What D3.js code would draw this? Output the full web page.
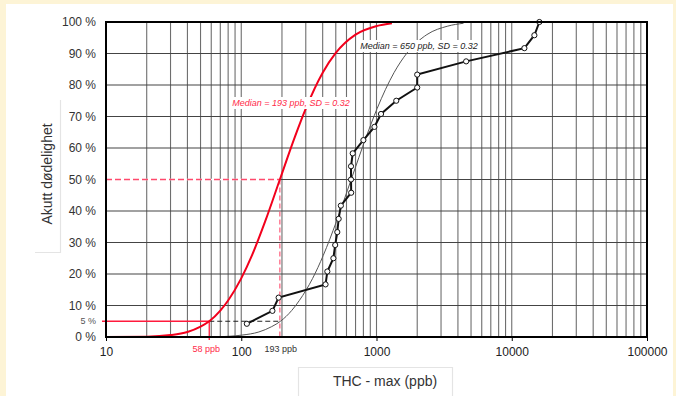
<!DOCTYPE html>
<html>
<head>
<meta charset="utf-8">
<script src="https://cdn.jsdelivr.net/npm/d3@7"></script>
<style>
  html, body { margin: 0; padding: 0; background: #fdf4d6; }
  svg { display: block; font-family: "Liberation Sans", Arial, sans-serif; }
</style>
</head>
<body>
<svg id="chart" width="676" height="396"></svg>
<script>
// ---- data ----
const xTickValues = [10, 100, 1000, 10000, 100000];
const xTickLabels = ["10", "100", "1000", "10000", "100000"];
const yTickValues = [0, 10, 20, 30, 40, 50, 60, 70, 80, 90, 100];
const yTickLabels = ["0 %", "10 %", "20 %", "30 %", "40 %", "50 %", "60 %", "70 %", "80 %", "90 %", "100 %"];

// observed data (black line with open circles)
const obsX = [110, 170, 189, 420, 433, 480, 495, 513, 525, 545, 650, 648, 648, 667, 800, 965, 1080, 1400, 2000, 2000, 4600, 12400, 14700, 16000];
const obsY = [4.2, 8.3, 12.5, 16.7, 20.8, 25, 29.2, 33.3, 37.5, 41.7, 45.8, 50, 54.2, 58.3, 62.5, 66.7, 70.8, 75, 79.2, 83.3, 87.5, 91.7, 95.8, 100];

// red curve (Median = 193 ppb, SD = 0.32)
const redX = [10, 20, 30, 40, 50, 58, 70, 80, 100, 120, 150, 193, 250, 300, 400, 500, 700, 1000, 1300];
const redY = [0, 0.1, 0.6, 1.6, 3.3, 5, 8.4, 11.6, 18.6, 25.9, 36.6, 50, 63.7, 72.5, 83.9, 90.2, 96, 98.7, 99.6];

// grey curve (Median = 650 ppb, SD = 0.32)
const greyX = [34, 67, 101, 135, 168, 195, 236, 269, 337, 404, 505, 650, 842, 1010, 1347, 1684, 2358, 3368, 4400];
const greyY = [0, 0.1, 0.6, 1.6, 3.3, 5, 8.4, 11.6, 18.6, 25.9, 36.6, 50, 63.7, 72.5, 83.9, 90.2, 96, 98.7, 99.6];

// reference markers
const refLow = { x: 58, y: 5, label: "58 ppb" };
const refMid = { x: 193, y: 50, label: "193 ppb" };
const redLabel = "Median = 193 ppb, SD = 0.32";
const greyLabel = "Median = 650 ppb, SD = 0.32";

// ---- drawing ----
const svg = d3.select("#chart");
const L = 106, R = 647, T = 22, B = 337;
const x = d3.scaleLog().domain([10, 100000]).range([L, R]);
const y = d3.scaleLinear().domain([0, 100]).range([B, T]);

// white panel
svg.append("rect").attr("x", 6).attr("y", 4).attr("width", 667).attr("height", 392).attr("fill", "#ffffff");

// vertical minor gridlines
const minor = [];
for (let d = 10; d < 100000; d *= 10) for (let m = 1; m <= 9; m++) { const v = d * m; if (v > 10 && v < 100000) minor.push(v); }
svg.append("g").selectAll("line").data(minor).join("line")
  .attr("x1", d => x(d)).attr("x2", d => x(d)).attr("y1", T).attr("y2", B)
  .attr("stroke", "#6e6e6e").attr("stroke-width", 1.1);

// horizontal gridlines
svg.append("g").selectAll("line").data(yTickValues.filter(v => v > 0 && v < 100)).join("line")
  .attr("x1", L).attr("x2", R).attr("y1", d => y(d)).attr("y2", d => y(d))
  .attr("stroke", "#444").attr("stroke-width", 1.2);

svg.append("clipPath").attr("id", "pc").append("rect")
  .attr("x", L).attr("y", T - 1).attr("width", R - L).attr("height", B - T + 1);

// reference lines
const pink = "#ff4a6c";
svg.append("line").attr("x1", L).attr("x2", x(refMid.x)).attr("y1", y(refMid.y)).attr("y2", y(refMid.y))
  .attr("stroke", "#fff").attr("stroke-width", 1.6);
svg.append("line").attr("x1", L).attr("x2", x(refMid.x)).attr("y1", y(refMid.y)).attr("y2", y(refMid.y))
  .attr("stroke", pink).attr("stroke-width", 1.5).attr("stroke-dasharray", "6,3");
svg.append("line").attr("x1", x(refMid.x)).attr("x2", x(refMid.x)).attr("y1", y(refMid.y)).attr("y2", B)
  .attr("stroke", pink).attr("stroke-width", 1.1).attr("stroke-dasharray", "5,3");
svg.append("line").attr("x1", x(refLow.x)).attr("x2", x(refMid.x)).attr("y1", y(refLow.y)).attr("y2", y(refLow.y))
  .attr("stroke", "#222").attr("stroke-width", 1).attr("stroke-dasharray", "5,3");
svg.append("line").attr("x1", L - 4).attr("x2", x(refLow.x)).attr("y1", y(refLow.y)).attr("y2", y(refLow.y))
  .attr("stroke", "#ff1a3c").attr("stroke-width", 1.3);
svg.append("line").attr("x1", x(refLow.x)).attr("x2", x(refLow.x)).attr("y1", y(refLow.y)).attr("y2", B + 3)
  .attr("stroke", "#ff1a3c").attr("stroke-width", 1.3);

// curves
const curveLine = d3.line().x(d => x(d[0])).y(d => y(d[1])).curve(d3.curveMonotoneX);
const plot = svg.append("g").attr("clip-path", "url(#pc)");
plot.append("path").datum(greyX.map((v, i) => [v, greyY[i]]))
  .attr("d", curveLine).attr("fill", "none").attr("stroke", "#555").attr("stroke-width", 1);
plot.append("path").datum(redX.map((v, i) => [v, redY[i]]))
  .attr("d", curveLine).attr("fill", "none").attr("stroke", "#f2001c").attr("stroke-width", 2);

// observed data
const obs = obsX.map((v, i) => [v, obsY[i]]);
svg.append("path").datum(obs)
  .attr("d", d3.line().x(d => x(d[0])).y(d => y(d[1])))
  .attr("fill", "none").attr("stroke", "#111").attr("stroke-width", 2);
svg.append("g").selectAll("circle").data(obs).join("circle")
  .attr("cx", d => x(d[0])).attr("cy", d => y(d[1])).attr("r", 2.6)
  .attr("fill", "#fff").attr("stroke", "#111").attr("stroke-width", 1);

// curve labels with white background
function boxLabel(txt, cx, by, color) {
  const g = svg.append("g");
  const t = g.append("text").attr("x", cx).attr("y", by).attr("text-anchor", "middle")
    .attr("font-size", 9).attr("font-style", "italic").attr("fill", color).text(txt);
  const bb = t.node().getBBox();
  g.insert("rect", "text").attr("x", bb.x - 3).attr("y", bb.y - 1).attr("width", bb.width + 6).attr("height", bb.height + 2)
    .attr("fill", "#fff");
}
boxLabel(redLabel, 291, 106, "#ff2a48");
boxLabel(greyLabel, 419, 49, "#222");

// frame
svg.append("rect").attr("x", L).attr("y", T).attr("width", R - L).attr("height", B - T)
  .attr("fill", "none").attr("stroke", "#000").attr("stroke-width", 2);

// x axis ticks and labels
const xAxis = d3.axisBottom(x).tickValues(xTickValues).tickFormat((d, i) => xTickLabels[i]).tickSize(4).tickPadding(6);
const gx = svg.append("g").attr("transform", `translate(0,${B})`).call(xAxis);
gx.select(".domain").remove();
gx.selectAll("line").attr("stroke", "#000");
gx.selectAll("text").attr("font-size", 12).attr("fill", "#222").attr("font-family", "Liberation Sans, Arial, sans-serif");

// y axis labels
const yAxis = d3.axisLeft(y).tickValues(yTickValues).tickFormat((d, i) => yTickLabels[i]).tickSize(0).tickPadding(10);
const gy = svg.append("g").attr("transform", `translate(${L},0)`).call(yAxis);
gy.select(".domain").remove();
gy.selectAll("text").attr("font-size", 12).attr("fill", "#333").attr("font-family", "Liberation Sans, Arial, sans-serif");

// 5 % label
svg.append("text").attr("x", 96).attr("y", y(refLow.y) + 3).attr("text-anchor", "end")
  .attr("font-size", 9).attr("fill", "#555").text(refLow.y + " %");

// ppb marker labels
svg.append("text").attr("x", x(refLow.x) - 3).attr("y", 352).attr("text-anchor", "middle")
  .attr("font-size", 9).attr("fill", "#ff2a48").text(refLow.label);
svg.append("text").attr("x", x(refMid.x) + 1).attr("y", 352).attr("text-anchor", "middle")
  .attr("font-size", 9).attr("fill", "#333").text(refMid.label);

// axis title boxes
svg.append("path").attr("d", "M35,252.5 H60.5 V100").attr("fill", "none").attr("stroke", "#e4e4e4").attr("stroke-width", 1.2);
svg.append("text").attr("transform", "translate(52,174) rotate(-90)").attr("text-anchor", "middle")
  .attr("font-size", 14).attr("fill", "#333").text("Akutt dødelighet");

svg.append("path").attr("d", "M298.5,396 V367.5 H452.5 V396").attr("fill", "none").attr("stroke", "#e4e4e4").attr("stroke-width", 1.2);
svg.append("text").attr("x", 385).attr("y", 386).attr("text-anchor", "middle")
  .attr("font-size", 14).attr("fill", "#333").text("THC - max (ppb)");
</script>
</body>
</html>
